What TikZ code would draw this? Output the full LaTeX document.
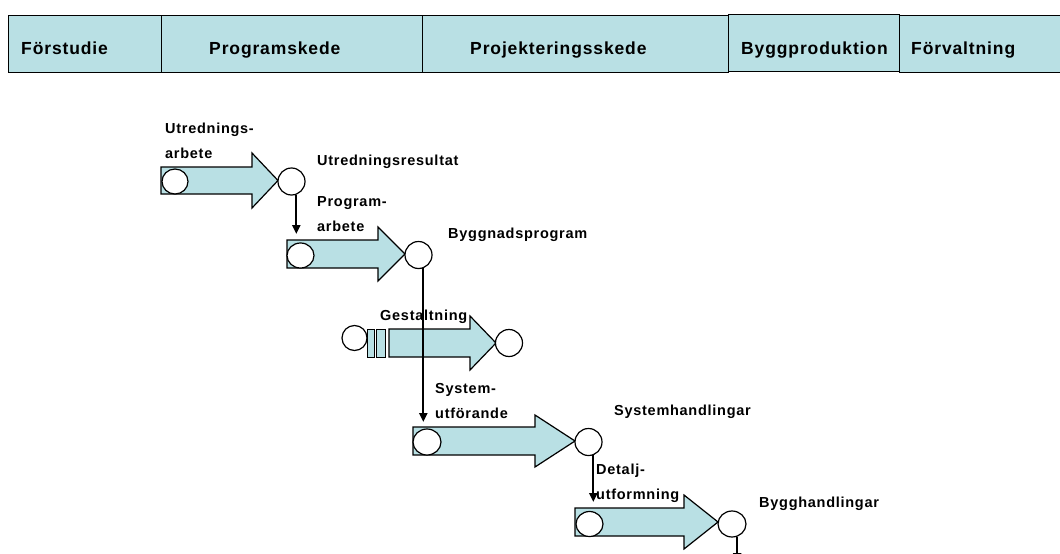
\documentclass[tikz,border=0pt]{standalone}
\usepackage{fontspec}
\setmainfont{Liberation Sans}[LetterSpace=5]
\usetikzlibrary{arrows.meta,shapes.geometric}
\definecolor{ljusbla}{RGB}{185,224,228}

\begin{document}
\begin{tikzpicture}[x=1pt,y=-1pt,
	fas/.style={draw, fill=ljusbla, line width=1.3pt, anchor=north west, inner sep=0, minimum height=57},
	fastext/.style={font=\bfseries\fontsize{17.5}{20}\selectfont, anchor=base west, inner sep=0},
	pil/.style={draw, fill=ljusbla, line width=1.2pt},
	ring/.style={ellipse, draw, fill=white, line width=1.2pt, inner sep=0},
	etikett/.style={font=\bfseries\fontsize{14.5}{25}\selectfont, anchor=base west, inner sep=0, align=left},
	led/.style={line width=2.2pt, -{Triangle[length=9pt,width=8pt]}}]

		\useasboundingbox (0,0) rectangle (1060,554);

		%% skeden
		\node[fas, minimum width=153] (forstudie) at (8,15) {};
		\node[fas, minimum width=261] (program) at (161,15) {};
		\node[fas, minimum width=306] (projektering) at (422,15) {};
		\node[fas, minimum width=171] (bygg) at (728,14) {};
		\node[fas, minimum width=170] (forvaltning) at (899,15) {};

		\node[fastext] (forstudieT) at (21,54) {Förstudie};
		\node[fastext] (programT) at (209,54) {Programskede};
		\node[fastext] (projekteringT) at (470,54) {Projekteringsskede};
		\node[fastext] (byggT) at (741,54) {Byggproduktion};
		\node[fastext] (forvaltningT) at (911,54) {Förvaltning};

		%% utredningsarbete
		\draw[pil] (161,167)--(252,167)--(252,153)--(278,180.5)--(252,208)--(252,194)--(161,194)--cycle;
		\node[ring, minimum width=26, minimum height=25] (utrA) at (175,181.5) {};
		\node[ring, minimum size=27] (utrB) at (291.5,181.5) {};

		%% programarbete
		\draw[pil] (287,240)--(378,240)--(378,227)--(405,254)--(378,281)--(378,268)--(287,268)--cycle;
		\node[ring, minimum width=27, minimum height=25] (progA) at (300.5,255.5) {};
		\node[ring, minimum size=27] (progB) at (418.5,255) {};

		%% gestaltning
		\draw[pil, line width=0.8pt] (367,329) rectangle (374,357);
		\draw[pil, line width=0.8pt] (376.5,329) rectangle (385,357);
		\draw[pil] (389,329)--(470,329)--(470,316)--(496,343)--(470,370)--(470,357)--(389,357)--cycle;
		\node[ring, minimum width=25, minimum height=25] (gestA) at (354.5,338) {};
		\node[ring, minimum size=27] (gestB) at (509,343) {};

		%% systemutforande
		\draw[pil] (413,427)--(535,427)--(535,415)--(575,441)--(535,467)--(535,455)--(413,455)--cycle;
		\node[ring, minimum width=28, minimum height=26] (sysA) at (427,442) {};
		\node[ring, minimum size=27] (sysB) at (588.5,442) {};

		%% detaljutformning
		\draw[pil] (575,508)--(684,508)--(684,495)--(718,522)--(684,549)--(684,536)--(575,536)--cycle;
		\node[ring, minimum width=27, minimum height=25] (detA) at (589.5,524) {};
		\node[ring, minimum width=28, minimum height=26] (detB) at (732,524) {};

		%% texter
		\node[etikett] (utrT) at (165,158) {Utrednings-\\arbete};
		\node[etikett] (utrResT) at (317,165) {Utredningsresultat};
		\node[etikett] (progT) at (317,231) {Program-\\arbete};
		\node[etikett] (progResT) at (448,238) {Byggnadsprogram};
		\node[etikett] (gestT) at (380,320) {Gestaltning};
		\node[etikett] (sysT) at (435,418) {System-\\utförande};
		\node[etikett] (sysResT) at (614,415) {Systemhandlingar};
		\node[etikett] (detT) at (596,499) {Detalj-\\utformning};
		\node[etikett] (detResT) at (759,507) {Bygghandlingar};

		%% pilar
		\coordinate (progTopp) at (0,234);
		\coordinate (sysTopp) at (0,422);
		\coordinate (detTopp) at (0,502);
		\coordinate (nedre) at (0,562);

		\draw[led] (utrB.-70)--(utrB.-70 |- progTopp);
		\draw[led] (progB.-70)--(progB.-70 |- sysTopp);
		\draw[led] (sysB.-70)--(sysB.-70 |- detTopp);
		\draw[led] (detB.-68)--(detB.-68 |- nedre);
\end{tikzpicture}
\end{document}
